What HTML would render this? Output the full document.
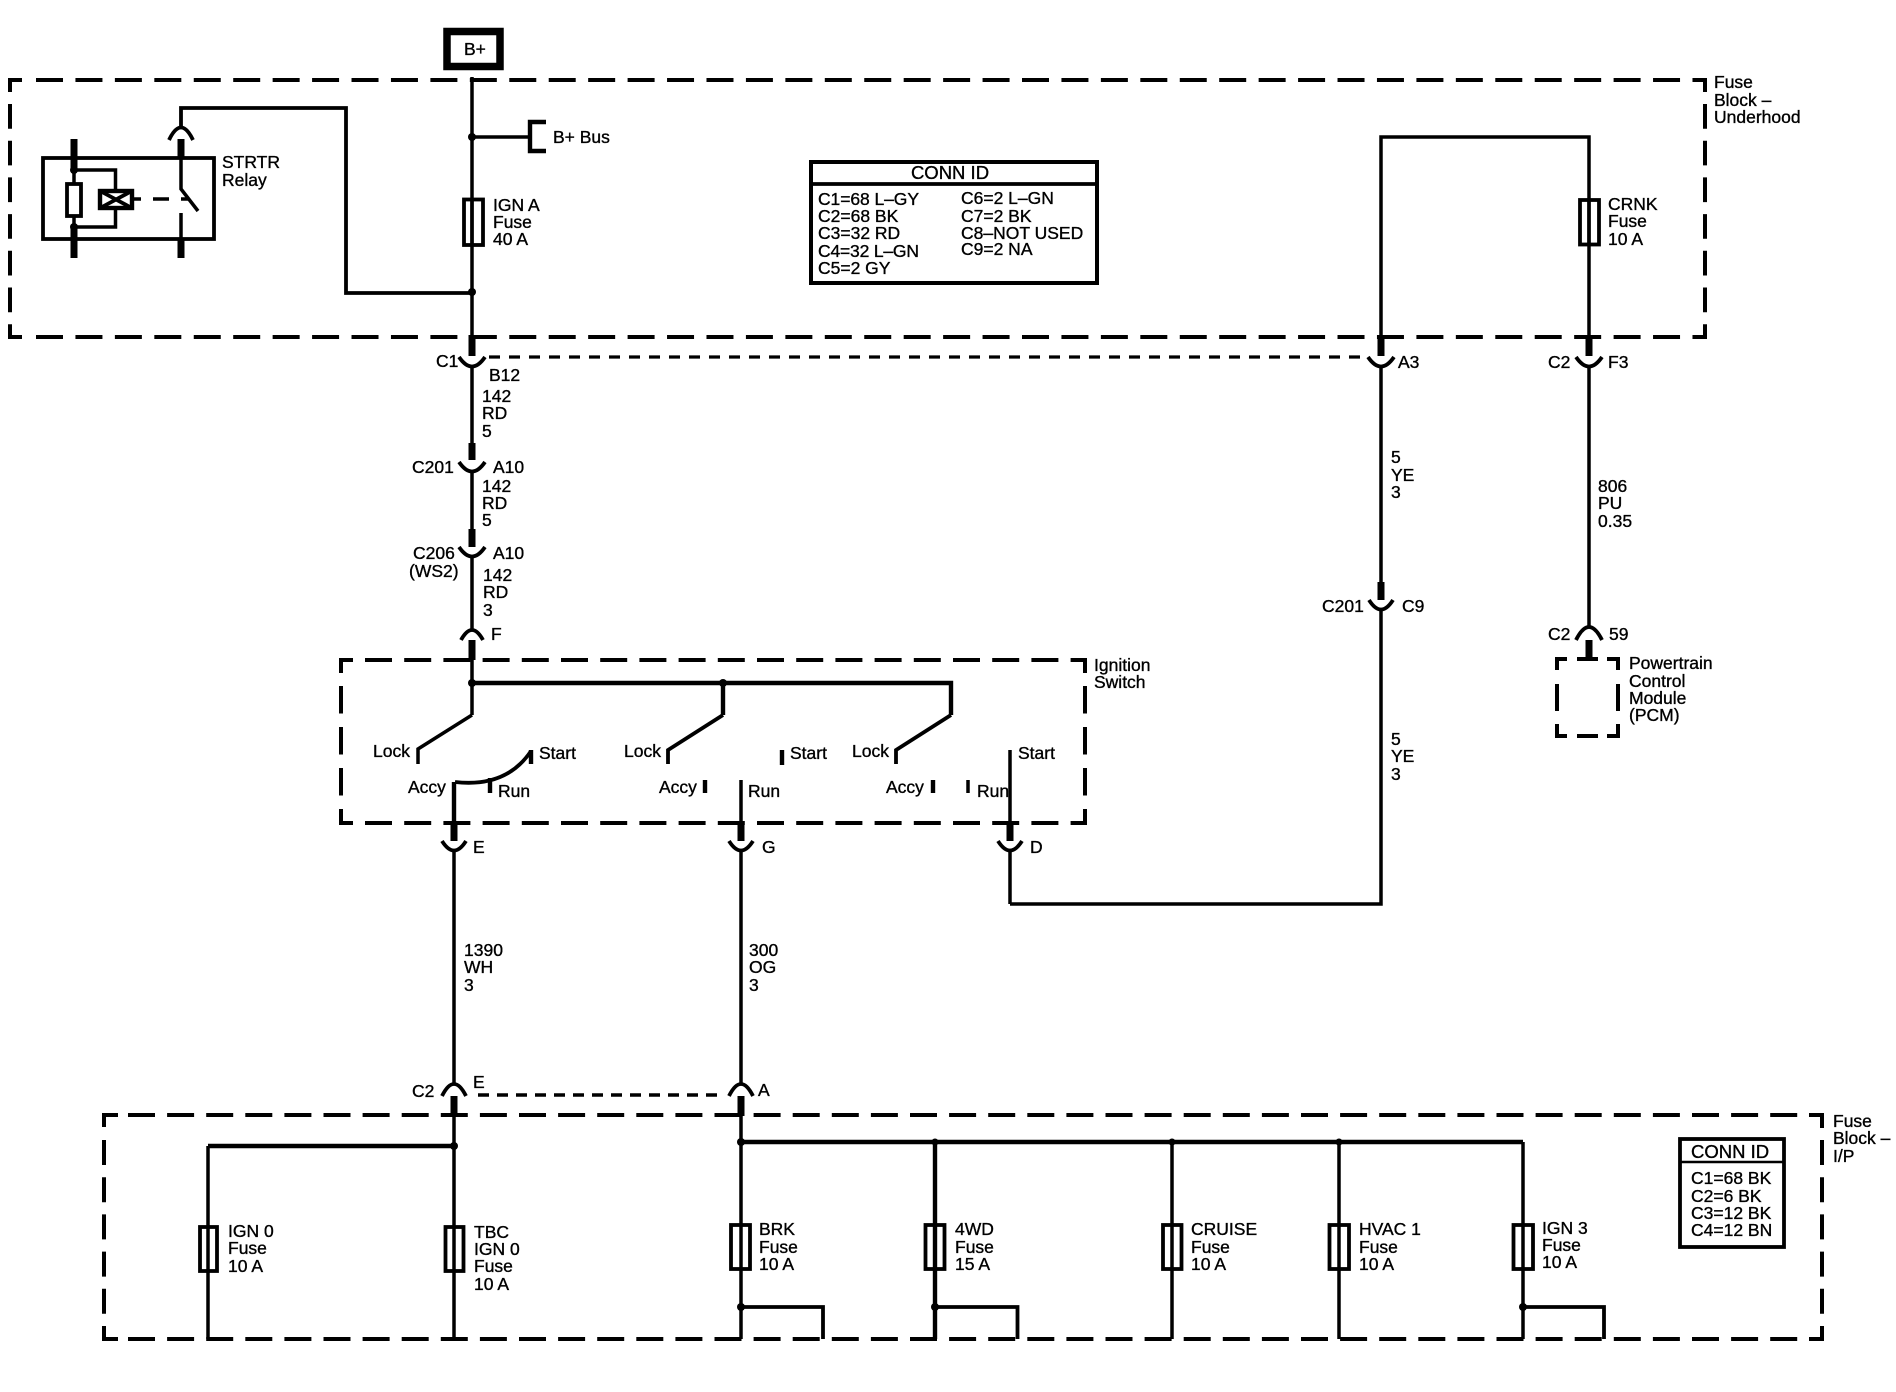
<!DOCTYPE html>
<html><head><meta charset="utf-8">
<style>
html,body{margin:0;padding:0;background:#fff;width:1896px;height:1392px;overflow:hidden}
svg{display:block}
text{font-family:"Liberation Sans",Arial,sans-serif;font-size:17.5px;fill:#000;stroke:#000;stroke-width:.35}
.w{fill:none;stroke:#000;stroke-width:3.5}
.t{fill:none;stroke:#000;stroke-width:4.4}
.r{fill:none;stroke:#000;stroke-width:3.8}
.s{fill:none;stroke:#000;stroke-width:7}
.d{fill:none;stroke:#000;stroke-width:4}
.c{fill:none;stroke:#000;stroke-width:3.8}
</style></head><body>
<svg width="1896" height="1392" viewBox="0 0 1896 1392" xmlns="http://www.w3.org/2000/svg">
<rect width="1896" height="1392" fill="#fff"/>

<!-- Fuse Block Underhood box -->
<path class="d" d="M22,80H10V92M1693,80H1705V92M10,325V337H22M1705,325V337H1693"/>
<path class="d" stroke-dasharray="27 12.44" d="M36,80H1693M36,337H1693"/>
<path class="d" stroke-dasharray="24.7 12" d="M10,104V325M1705,104V325"/>

<!-- Ignition switch box -->
<path class="d" d="M353,660H341V673M1072,660H1085V673M341,809V823H353M1085,809V823H1072"/>
<path class="d" stroke-dasharray="27 12.2" d="M365,660H1072M365,823H1072"/>
<path class="d" stroke-dasharray="27.5 13.5" d="M341,686V809M1085,686V809"/>

<!-- PCM box -->
<path class="d" d="M1567,659H1557V670M1607,659H1618V670M1557,724V736H1567M1618,724V736H1607M1577,659H1598M1577,736H1598M1557,684V711M1618,684V711"/>

<!-- Fuse Block IP box -->
<path class="d" d="M118,1115H104V1127M1809,1115H1822V1128M104,1327V1339H118M1822,1327V1339H1809"/>
<path class="d" stroke-dasharray="27 12.1" d="M128,1115H1809M128,1339H1809"/>
<path class="d" stroke-dasharray="25 12.2" d="M104,1140V1327M1822,1140V1327"/>

<!-- B+ -->
<rect x="447" y="31.5" width="53" height="35" fill="#fff" stroke="#000" stroke-width="7.5"/>
<text x="464" y="55">B+</text>

<!-- Main wire top -->
<path class="w" d="M472,77V337M472,137H530"/>
<path class="t" d="M546,122H530V151H546"/>
<circle cx="472" cy="137" r="4"/><circle cx="472" cy="292" r="4"/>
<text x="553" y="143">B+ Bus</text>
<rect x="464" y="199.5" width="19" height="45.5" class="c" fill="#fff"/>
<path class="w" d="M472,198V246"/>
<text x="493" y="211">IGN A</text><text x="493" y="228">Fuse</text><text x="493" y="245">40 A</text>

<!-- Relay -->
<rect x="43" y="158" width="171" height="81" class="c"/>
<path class="s" d="M74,139V170M74,227V258"/>
<path class="w" d="M74,170H115.5V190M74,227H115.5V208M74,170V183M74,216V227"/>
<circle cx="74" cy="170" r="4"/><circle cx="74" cy="227" r="4"/>
<rect x="67" y="184" width="14" height="32" class="c"/>
<rect x="100" y="191" width="32" height="17" class="t"/>
<path class="c" d="M102,192L130,207M102,207L130,192"/>
<path class="w" d="M133,199H141M153,199H169M181,199H188"/>
<path class="s" d="M181,139V157M181,239V258"/>
<path class="w" d="M181,157V189L198,211M181,213V239"/>
<path class="c" d="M169,140Q181,115 193,140"/>
<path class="r" d="M181,127V108H346V293H472"/>
<text x="222" y="168">STRTR</text><text x="222" y="186">Relay</text>

<!-- Table 1 -->
<rect x="811" y="162" width="286" height="121" class="d"/>
<path class="c" d="M811,184H1097"/>
<text x="950" y="179" text-anchor="middle" style="font-size:18.5px">CONN ID</text>
<text x="818" y="205" textLength="101">C1=68 L–GY</text>
<text x="818" y="222">C2=68 BK</text>
<text x="818" y="239">C3=32 RD</text>
<text x="818" y="257" textLength="101">C4=32 L–GN</text>
<text x="818" y="274">C5=2 GY</text>
<text x="961" y="204">C6=2 L–GN</text>
<text x="961" y="222">C7=2 BK</text>
<text x="961" y="239">C8–NOT USED</text>
<text x="961" y="255">C9=2 NA</text>

<!-- Block labels -->
<text x="1714" y="88">Fuse</text><text x="1714" y="106">Block –</text><text x="1714" y="123">Underhood</text>

<!-- Right top wires -->
<path class="w" d="M1381,337V137H1589V337"/>
<rect x="1580" y="200" width="19" height="44.5" class="c" fill="#fff"/>
<path class="w" d="M1589,199V245"/>
<text x="1608" y="210">CRNK</text><text x="1608" y="227">Fuse</text><text x="1608" y="245">10 A</text>

<!-- C1 row -->
<path class="s" d="M472,335V356M1381,335V356M1589,335V356"/>
<path class="c" d="M459,357Q472,376 485,357M1368,357Q1381,376 1394,357M1576,357Q1589,376 1602,357"/>
<path stroke-width="3.2" stroke="#000" fill="none" stroke-dasharray="11 9" d="M489,357H1362"/>
<text x="436" y="367">C1</text><text x="489" y="381">B12</text>
<text x="1398" y="368">A3</text><text x="1548" y="368">C2</text><text x="1608" y="368">F3</text>

<!-- Left vertical -->
<path class="w" d="M472,366V443M472,471V529M472,557V629M472,660V715"/>
<path class="s" d="M472,443V460M472,529V547M472,640V660"/>
<path class="c" d="M459,462Q472,481 485,462M459,547Q472,566 485,547M461,640Q472,620 483,640"/>
<text x="482" y="402">142</text><text x="482" y="419">RD</text><text x="482" y="437">5</text>
<text x="412" y="473">C201</text><text x="493" y="473">A10</text>
<text x="482" y="492">142</text><text x="482" y="509">RD</text><text x="482" y="526">5</text>
<text x="413" y="559">C206</text><text x="409" y="577">(WS2)</text><text x="493" y="559">A10</text>
<text x="483" y="581">142</text><text x="483" y="598">RD</text><text x="483" y="616">3</text>
<text x="491" y="640">F</text>

<!-- Right verticals -->
<path class="w" d="M1381,366V582M1381,611V904H1010"/>
<path class="s" d="M1381,582V600"/>
<path class="c" d="M1369,600Q1381,619 1393,600"/>
<text x="1391" y="463">5</text><text x="1391" y="481">YE</text><text x="1391" y="498">3</text>
<text x="1322" y="612">C201</text><text x="1402" y="612">C9</text>
<text x="1391" y="745">5</text><text x="1391" y="762">YE</text><text x="1391" y="780">3</text>
<path class="w" d="M1589,366V628"/>
<text x="1598" y="492">806</text><text x="1598" y="509">PU</text><text x="1598" y="527">0.35</text>
<path class="c" d="M1576,640Q1589,614 1602,640"/>
<path class="s" d="M1589,640V658"/>
<text x="1548" y="640">C2</text><text x="1609" y="640">59</text>
<text x="1629" y="669">Powertrain</text><text x="1629" y="687">Control</text><text x="1629" y="704">Module</text><text x="1629" y="721">(PCM)</text>

<!-- Ignition switch internals -->
<path class="t" d="M472,683H951V715"/>
<path class="t" d="M723,683V715"/>
<path class="r" d="M951,715L896,750V764M723,715L668,750V764"/>
<path class="w" d="M472,715L418,749V764"/>
<circle cx="472" cy="683" r="4"/><circle cx="723" cy="683" r="4"/>
<path class="t" d="M531,750V764"/>
<path class="c" d="M455,782C490,786 515,775 531,751"/>
<path class="t" d="M454,782V823"/>
<path class="t" d="M490,778V793M705,780V793M782,750V765M933,780V793"/>
<path class="w" d="M968,780V793M741,780V823M1010,750V823"/>
<text x="373" y="757">Lock</text><text x="539" y="759">Start</text><text x="408" y="793">Accy</text><text x="498" y="797">Run</text>
<text x="624" y="757">Lock</text><text x="659" y="793">Accy</text><text x="790" y="759">Start</text><text x="748" y="797">Run</text>
<text x="852" y="757">Lock</text><text x="886" y="793">Accy</text><text x="977" y="797">Run</text><text x="1018" y="759">Start</text>
<text x="1094" y="671">Ignition</text><text x="1094" y="688">Switch</text>

<!-- E G D -->
<path class="s" d="M454,821V841M741,821V841M1010,821V841"/>
<path class="c" d="M442,841Q454,860 466,841M729,841Q741,860 753,841M998,841Q1010,860 1022,841"/>
<path class="w" d="M454,851V1084M741,851V1084M1010,851V904"/>
<text x="473" y="853">E</text><text x="762" y="853">G</text><text x="1030" y="853">D</text>
<text x="464" y="956">1390</text><text x="464" y="973">WH</text><text x="464" y="991">3</text>
<text x="749" y="956">300</text><text x="749" y="973">OG</text><text x="749" y="991">3</text>

<!-- C2 lower -->
<path class="c" d="M442,1096Q454,1072 466,1096M729,1096Q741,1072 753,1096"/>
<path class="s" d="M454,1096V1116M741,1096V1116"/>
<path stroke-width="3.6" stroke="#000" fill="none" stroke-dasharray="11 8" d="M478,1095H725"/>
<text x="412" y="1097">C2</text><text x="473" y="1088">E</text><text x="758" y="1096">A</text>

<!-- Fuse block IP internals -->
<path class="t" d="M208,1146H454M741,1142H1523"/>
<path class="w" d="M208,1146V1339M454,1115V1339M741,1115V1339M1172,1142V1339M1339,1142V1339M1523,1142V1339"/>
<path class="t" d="M935,1142V1339"/>
<circle cx="454" cy="1146" r="4"/><circle cx="741" cy="1142" r="4"/><circle cx="935" cy="1142" r="3.5"/><circle cx="1172" cy="1142" r="3.5"/><circle cx="1339" cy="1142" r="3.5"/>
<circle cx="741" cy="1307" r="4"/><circle cx="935" cy="1307" r="4"/><circle cx="1523" cy="1307" r="4"/>
<path class="c" d="M741,1307H823V1339M935,1307H1017.5V1339M1523,1307H1604V1339"/>

<g class="c">
<rect x="200" y="1227" width="17" height="44" class="c"/>
<rect x="445.5" y="1227" width="18" height="44" class="c"/>
<rect x="731" y="1225" width="19" height="44" class="c"/>
<rect x="925.5" y="1225" width="19" height="44" class="c"/>
<rect x="1163" y="1225" width="18.5" height="44" class="c"/>
<rect x="1329.5" y="1225" width="19.5" height="44" class="c"/>
<rect x="1513.5" y="1225" width="19.5" height="44" class="c"/>
</g>

<text x="228" y="1237">IGN 0</text><text x="228" y="1254">Fuse</text><text x="228" y="1272">10 A</text>
<text x="474" y="1238">TBC</text><text x="474" y="1255">IGN 0</text><text x="474" y="1272">Fuse</text><text x="474" y="1290">10 A</text>
<text x="759" y="1235">BRK</text><text x="759" y="1253">Fuse</text><text x="759" y="1270">10 A</text>
<text x="955" y="1235">4WD</text><text x="955" y="1253">Fuse</text><text x="955" y="1270">15 A</text>
<text x="1191" y="1235">CRUISE</text><text x="1191" y="1253">Fuse</text><text x="1191" y="1270">10 A</text>
<text x="1359" y="1235">HVAC 1</text><text x="1359" y="1253">Fuse</text><text x="1359" y="1270">10 A</text>
<text x="1542" y="1234">IGN 3</text><text x="1542" y="1251">Fuse</text><text x="1542" y="1268">10 A</text>

<!-- Table 2 -->
<rect x="1680" y="1139" width="104" height="108" class="c"/>
<path d="M1680,1162H1784" fill="none" stroke="#000" stroke-width="2.5"/>
<text x="1691" y="1158" style="font-size:18.5px">CONN ID</text>
<text x="1691" y="1184">C1=68 BK</text>
<text x="1691" y="1202">C2=6 BK</text>
<text x="1691" y="1219">C3=12 BK</text>
<text x="1691" y="1236">C4=12 BN</text>

<text x="1833" y="1127">Fuse</text><text x="1833" y="1144">Block –</text><text x="1833" y="1162">I/P</text>
</svg>
</body></html>
